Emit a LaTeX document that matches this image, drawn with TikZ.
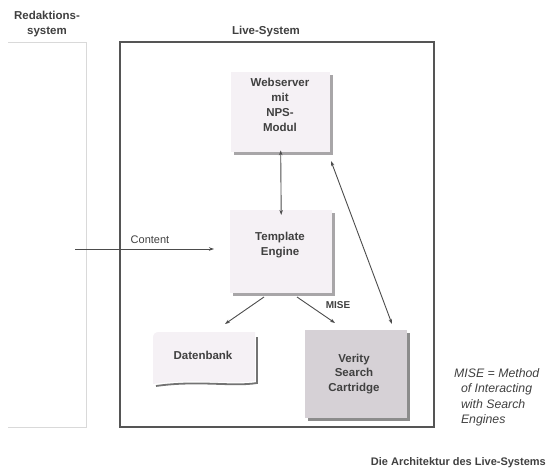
\documentclass[tikz,border=0pt]{standalone}
\usepackage{fontspec}
\setmainfont{Liberation Sans}
\usetikzlibrary{arrows.meta}
\definecolor{boxfill}{HTML}{F5F1F5}
\definecolor{shad}{HTML}{A8A6A8}
\definecolor{verfill}{HTML}{D6D1D6}
\definecolor{frame}{HTML}{555555}
\begin{document}
\begin{tikzpicture}[x=1pt,y=-1pt,
  lbl/.style={font=\fontsize{11.5}{15}\selectfont\bfseries, text=black!75, align=center, inner sep=0pt},
  box/.style={fill=boxfill, anchor=north west, inner sep=0pt},
  conn/.style={draw=black!70, line width=0.9pt, -{Stealth[length=5pt,width=3.5pt]}},
  biconn/.style={draw=black!70, line width=0.9pt, {Stealth[length=5pt,width=3.5pt]}-{Stealth[length=5pt,width=3.5pt]}}]
\useasboundingbox (0,0) rectangle (549,473);
% Redaktionssystem
\draw[black!15, line width=0.8pt] (8,42) -- (86,42) -- (86,427) -- (8,427);
\node[lbl] (red) at (47,24) {Redaktions-\\system};
% Live-System
\draw[frame, line width=1.5pt] (120,42) rectangle (434,427);
\node[lbl] (live) at (266,32) {Live-System};
% Webserver
\fill[shad] (234,75) rectangle (333,155);
\node[box, minimum width=99pt, minimum height=80pt] (web) at (231,72) {};
\node[lbl] (webt) at (280,105) {Webserver\\mit\\NPS-\\Modul};
% Template Engine
\fill[shad] (233,213) rectangle (335,296);
\node[box, minimum width=102pt, minimum height=83pt] (tmpl) at (230,210) {};
\node[lbl] (tmplt) at (280,245) {Template\\Engine};
% Datenbank
\fill[boxfill] (153,338) .. controls (153,334) and (155,332) .. (159,332) -- (255,332) -- (255,381) .. controls (231,385) and (196,378) .. (153,384) -- cycle;
\draw[black!55, line width=1.8pt] (257,337) -- (257,383) .. controls (233,387) and (198,380) .. (156,386);
\node[lbl] (db) at (203,355) {Datenbank};
% Verity
\fill[black!45] (308,333) rectangle (410,421);
\node[box, fill=verfill, minimum width=102pt, minimum height=88pt] (ver) at (305,330) {};
\node[lbl, font=\fontsize{11.5}{14.5}\selectfont\bfseries] (vert) at (354,374) {Verity\\Search\\Cartridge};
% connectors
\coordinate (src) at (75,249);
\coordinate (tin) at (214,249);
\draw[conn] (src) -- (tin);
\node[lbl, font=\fontsize{11}{13}\selectfont] (content) at (150,240) {Content};
\draw[biconn] ([yshift=2pt]web.south) -- ([yshift=-5pt]tmpl.north);
\draw[biconn] (331,161) -- (392,324);
\draw[conn] (264,297) -- (225,324);
\draw[conn] (297,297) -- (335,323);
\node[lbl, font=\fontsize{10}{12}\selectfont\bfseries] (mise) at (338,305) {MISE};
% annotation
\node[font=\fontsize{12.3}{15.5}\selectfont\itshape, text=black!75, align=left, anchor=north west, inner sep=0pt] (note) at (454,368) {MISE = Method\\\ \ of Interacting\\\ \ with Search\\\ \ Engines};
\node[lbl, font=\fontsize{11}{12}\selectfont\bfseries, anchor=east] (cap) at (546,463) {Die Architektur des Live-Systems};
\end{tikzpicture}
\end{document}
